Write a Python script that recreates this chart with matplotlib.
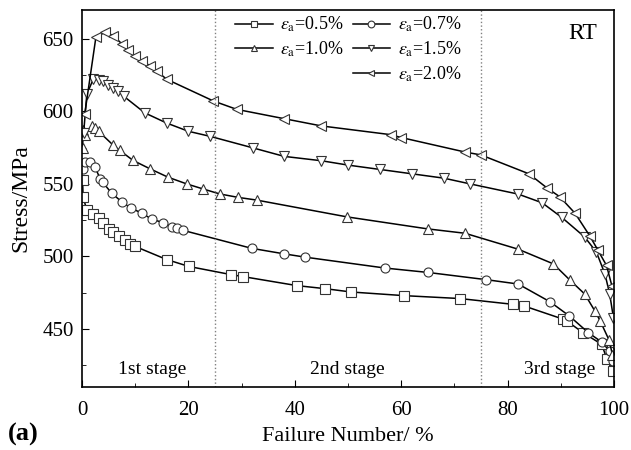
import numpy as np
import matplotlib.pyplot as plt
from matplotlib.lines import Line2D
from matplotlib.ticker import MultipleLocator

plt.rcParams['font.family'] = ['Liberation Serif', 'DejaVu Serif']
plt.rcParams['mathtext.fontset'] = 'stix'

# strain amplitude 0.5 %
x05 = [0.1, 0.2, 0.9, 2.0, 3.1, 4.0, 5.0, 5.9, 7.0, 8.1, 9.0, 10.0, 15.9, 20.1,
       28.0, 30.3, 40.4, 45.7, 50.6, 60.5, 71.0, 81.0, 83.0, 90.5, 91.1, 94.2,
       97.7, 98.7, 99.8]
y05 = [553, 541, 532, 529.6, 526.2, 523.1, 519.2, 516.9, 513.9, 511.6, 508.8, 506.9,
       497.9, 493.1, 487.5, 486.1, 479.9, 477.8, 475.5, 473, 471, 467, 466, 456.7,
       455.6, 447.4, 439.4, 429, 420.8]

# strain amplitude 0.7 %
x07 = [0.1, 0.6, 1.5, 2.4, 3.4, 3.9, 5.6, 7.5, 9.3, 11.2, 13.1, 15.2, 16.9, 17.8,
       19.0, 31.9, 38.0, 42.0, 57.0, 65.0, 76.0, 82.0, 88.0, 91.6, 95.2, 97.7,
       99.2, 99.9]
y07 = [560, 565, 565, 562, 553.6, 551.1, 543.5, 537.6, 533.1, 530, 525.7, 523.4,
       520.4, 519.4, 518, 505.6, 501.8, 499.5, 492, 489, 484, 481, 468.7, 459,
       447.4, 441, 434.7, 428]

# strain amplitude 1.0 %
x10 = [0.1, 0.25, 0.56, 1.8, 2.4, 3.1, 5.9, 7.1, 9.6, 12.8, 16.2, 19.7, 22.8,
       25.9, 29.4, 32.8, 49.8, 65.0, 72.0, 82.0, 88.6, 91.7, 94.5, 96.4, 97.4,
       99.1, 99.7]
y10 = [575, 587.5, 584, 589.8, 588.7, 586.3, 576.6, 573.1, 566.2, 560.4, 554.6,
       550, 546.5, 543.1, 540.7, 538.9, 527.3, 519, 516, 505, 494.9, 483.8, 474.1,
       462.5, 455.6, 442.2, 432.4]

# strain amplitude 1.5 %
x15 = [0.3, 0.9, 2.1, 3.1, 4.0, 4.9, 5.9, 6.8, 7.8, 11.8, 15.9, 20.0, 24.1, 32.2,
       38.0, 45.0, 50.0, 56.0, 62.0, 68.0, 73.0, 82.0, 86.5, 90.2, 94.5, 96.7,
       98.3, 99.2, 99.9]
y15 = [585, 611.8, 622.2, 622, 621, 618.5, 616.2, 614, 610.6, 599, 592, 586.3,
       582.8, 574.8, 569, 566, 563, 560, 557, 554, 550, 543, 537, 526.9, 513.4,
       503, 488, 474, 457.8]

# strain amplitude 2.0 %
x20 = [0.5, 2.6, 4.3, 5.9, 7.5, 8.7, 10.0, 11.2, 12.8, 14.0, 15.9, 24.7, 29.1,
       38.0, 45.0, 58.0, 60.0, 72.0, 75.0, 84.0, 87.5, 89.8, 92.7, 95.5, 97.0,
       98.6, 99.6]
y20 = [598, 651, 654.6, 652.3, 646.5, 642.6, 638, 634.9, 631.5, 628, 622.2, 607.2,
       601.4, 595, 590, 584, 582, 572, 570, 557, 547, 541.2, 529.7, 513.9, 504.2,
       493.8, 479.9]

series = [
    (x05, y05, 's', r'$\varepsilon_{\rm a}$=0.5%'),
    (x07, y07, 'o', r'$\varepsilon_{\rm a}$=0.7%'),
    (x10, y10, '^', r'$\varepsilon_{\rm a}$=1.0%'),
    (x15, y15, 'v', r'$\varepsilon_{\rm a}$=1.5%'),
    (x20, y20, '<', r'$\varepsilon_{\rm a}$=2.0%'),
]

fig = plt.figure(figsize=(6.31, 4.5), dpi=100)
ax = fig.add_axes([0.130, 0.14, 0.843, 0.838])

handles = {}
for xs, ys, m, lab in series:
    h, = ax.plot(xs, ys, color='black', lw=1.1, marker=m, ms=6.5,
                 mfc='white', mec='#333333', mew=0.8, label=lab)
    handles[lab] = h

ax.axvline(25, color='gray', ls=':', lw=1)
ax.axvline(75, color='gray', ls=':', lw=1)

ax.set_xlim(0, 100)
ax.set_ylim(410, 670)
ax.xaxis.set_major_locator(MultipleLocator(20))
ax.xaxis.set_minor_locator(MultipleLocator(10))
ax.yaxis.set_major_locator(MultipleLocator(50))
ax.yaxis.set_minor_locator(MultipleLocator(25))
ax.tick_params(which='both', direction='in', labelsize=15)
ax.tick_params(axis='x', pad=10)
ax.tick_params(axis='y', pad=6)
ax.tick_params(which='major', length=5)
ax.tick_params(which='minor', length=3)
for s in ax.spines.values():
    s.set_linewidth(1.2)

ax.set_xlabel('Failure Number/ %', fontsize=16, labelpad=5)
ax.set_ylabel('Stress/MPa', fontsize=17, labelpad=8)

ax.text(13.2, 422, '1st stage', ha='center', va='center', fontsize=14)
ax.text(49.8, 422, '2nd stage', ha='center', va='center', fontsize=14)
ax.text(89.7, 422, '3rd stage', ha='center', va='center', fontsize=14)
ax.text(94.2, 654, 'RT', ha='center', va='center', fontsize=17)
fig.text(0.012, 0.02, '(a)', fontsize=19, fontweight='bold')

blank = Line2D([], [], linestyle='none')
labs = [s[3] for s in series]
order = [handles[labs[0]], handles[labs[2]], blank,
         handles[labs[1]], handles[labs[3]], handles[labs[4]]]
names = [labs[0], labs[2], '', labs[1], labs[3], labs[4]]
ax.legend(order, names, ncol=2, loc='upper center', bbox_to_anchor=(0.5, 1.03),
          frameon=False, fontsize=13, handlelength=2.1, columnspacing=0.5,
          handletextpad=0.4, markerscale=0.75, labelspacing=0.3)

fig.savefig('out.png', dpi=100)
